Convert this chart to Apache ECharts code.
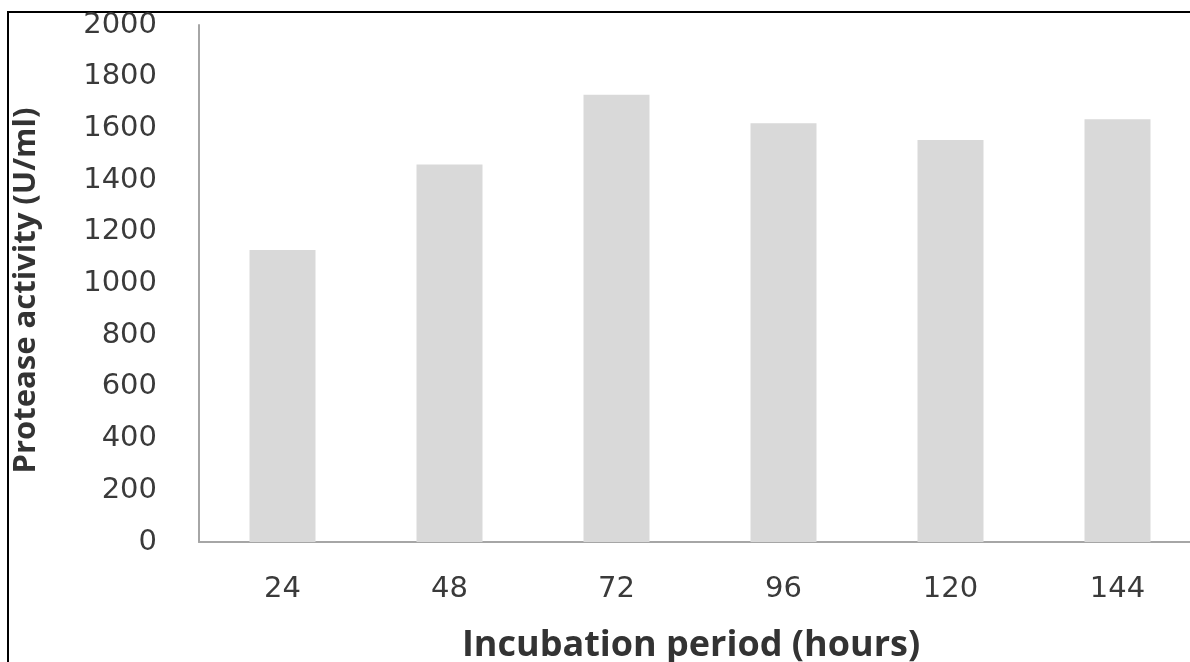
<!DOCTYPE html>
<html>
<head>
<meta charset="utf-8">
<script src="https://cdn.jsdelivr.net/npm/echarts@6/dist/echarts.min.js"></script>
<style>
  html, body { margin: 0; padding: 0; background: #fff; }
  #chart { width: 1190px; height: 662px; }
</style>
</head>
<body>
<div id="chart"></div>
<script>
// Incubation period (hours) vs. protease activity (U/ml)
const categories = ['24', '48', '72', '96', '120', '144'];
const activity = [1130, 1460, 1730, 1620, 1555, 1635];
const yTicks = { min: 0, max: 2000, interval: 200 };

const chart = echarts.init(document.getElementById('chart'));
chart.setOption({
  animation: false,
  backgroundColor: '#ffffff',
  grid: { left: 199, top: 25, right: -11, bottom: 120, containLabel: false, outerBoundsMode: 'none' },
  graphic: [{
    type: 'rect',
    shape: { x: 8, y: 12, width: 1300, height: 800 },
    style: { fill: 'none', stroke: '#000', lineWidth: 2 },
    silent: true
  }],
  xAxis: {
    type: 'category',
    data: categories,
    axisLine: { lineStyle: { color: '#a6a6a6', width: 2 } },
    axisTick: { show: false },
    axisLabel: { color: '#3a3a3a', fontSize: 29, fontFamily: 'DejaVu Sans', margin: 33 },
    name: 'Incubation period (hours)',
    nameLocation: 'middle',
    nameGap: 86,
    nameTextStyle: {
      color: '#333', fontSize: 36, fontWeight: 'bold', fontFamily: 'Open Sans',
      padding: [0, 18, 0, 0]
    }
  },
  yAxis: {
    type: 'value',
    min: yTicks.min, max: yTicks.max, interval: yTicks.interval,
    splitLine: { show: false },
    axisLine: { show: true, lineStyle: { color: '#a6a6a6', width: 2 } },
    axisTick: { show: false },
    axisLabel: {
      color: '#3a3a3a', fontSize: 29, fontFamily: 'DejaVu Sans', margin: 42,
      formatter: (v) => String(v)
    },
    name: 'Protease activity (U/ml)',
    nameLocation: 'middle',
    nameGap: 157,
    nameRotate: 90,
    nameTextStyle: {
      color: '#333', fontSize: 31, fontWeight: 'bold', fontFamily: 'Open Sans',
      padding: [0, 14, 0, 0]
    }
  },
  series: [{
    type: 'bar',
    data: activity,
    barWidth: 66,
    itemStyle: { color: '#d9d9d9' }
  }]
});
</script>
</body>
</html>
